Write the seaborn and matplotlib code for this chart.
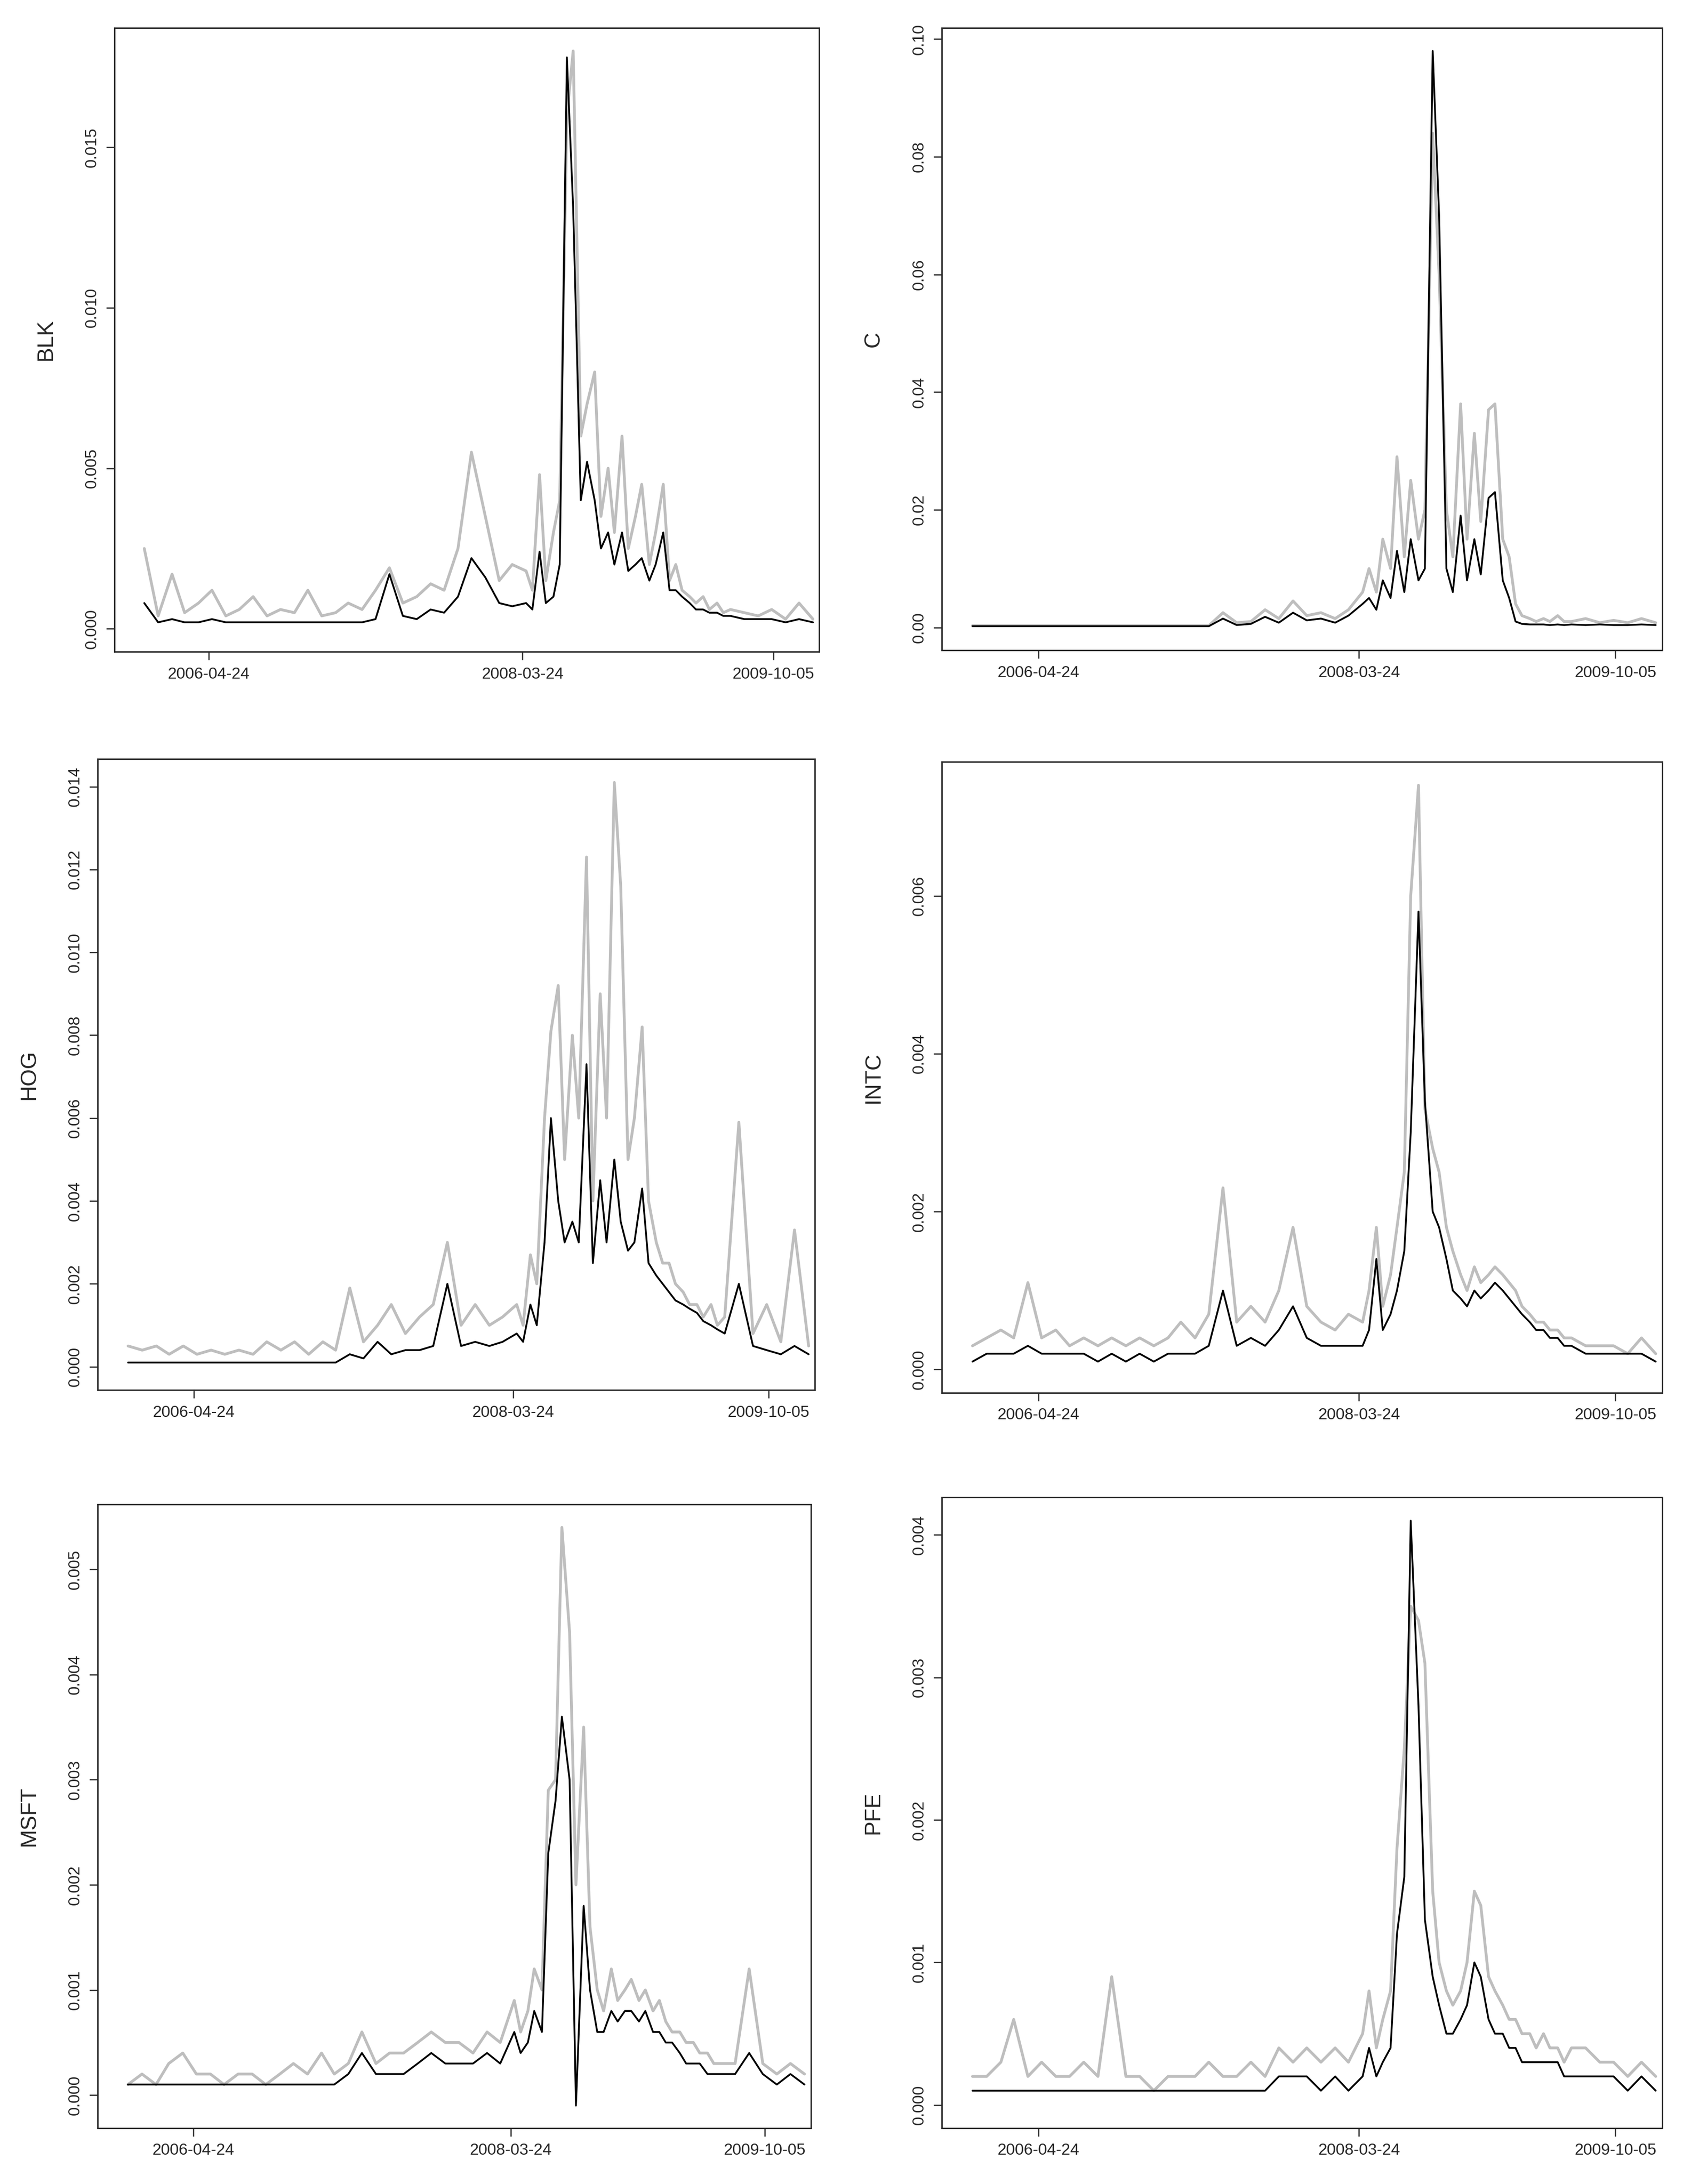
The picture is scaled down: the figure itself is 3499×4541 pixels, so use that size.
import matplotlib
matplotlib.use("Agg")
import matplotlib.pyplot as plt
import matplotlib.dates as mdates
import numpy as np
import pandas as pd
import seaborn as sns

# sampling dates: monthly, semi-monthly through the crisis, monthly again
dates = list(pd.date_range("2005-12-01", "2008-03-01", freq="MS")) \
    + list(pd.date_range("2008-04-01", "2009-06-15", freq="SMS")) \
    + list(pd.date_range("2009-07-01", "2010-01-01", freq="MS"))

tickers = ["BLK", "C", "HOG", "INTC", "MSFT", "PFE"]

blk_grey = [.0025, .0004, .0017, .0005, .0008, .0012, .0004, .0006, .0010, .0004, .0006, .0005, .0012, .0004, .0005, .0008,
            .0006, .0012, .0019, .0008, .0010, .0014, .0012, .0025, .0055, .0035, .0015, .0020, .0018, .0012, .0048, .0015,
            .0030, .0040, .0160, .0180, .0060, .0070, .0080, .0035, .0050, .0030, .0060, .0025, .0035, .0045, .0020, .0030,
            .0045, .0015, .0020, .0012, .0010, .0008, .0010, .0006, .0008, .0005, .0006, .0005, .0004, .0006, .0003, .0008, .0003]
blk_black = [.0008, .0002, .0003, .0002, .0002, .0003, .0002, .0002, .0002, .0002, .0002, .0002, .0002, .0002, .0002, .0002,
             .0002, .0003, .0017, .0004, .0003, .0006, .0005, .0010, .0022, .0016, .0008, .0007, .0008, .0006, .0024, .0008,
             .0010, .0020, .0178, .0131, .0040, .0052, .0040, .0025, .0030, .0020, .0030, .0018, .0020, .0022, .0015, .0020,
             .0030, .0012, .0012, .0010, .0008, .0006, .0006, .0005, .0005, .0004, .0004, .0003, .0003, .0003, .0002, .0003, .0002]

c_grey = [.0003] * 18 + [.0025, .0008, .0010, .003, .0015, .0045, .002, .0025, .0015, .003, .006, .010, .006, .015, .010, .029,
                         .012, .025, .015, .020, .084, .060, .020, .012, .038, .015, .033, .018, .037, .038, .015, .012, .004,
                         .002, .0015, .001, .0015, .001, .002, .001, .001, .0015, .0008, .0012, .0008, .0015, .0008]
c_black = [.0002] * 18 + [.0015, .0004, .0006, .0018, .0008, .0025, .0012, .0015, .0008, .002, .004, .005, .003, .008, .005,
                          .013, .006, .015, .008, .010, .098, .070, .010, .006, .019, .008, .015, .009, .022, .023, .008, .005,
                          .001, .0006, .0005, .0005, .0005, .0004, .0005, .0004, .0005, .0004, .0005, .0004, .0004, .0005, .0004]

hog_grey = [.0005, .0004, .0005, .0003, .0005, .0003, .0004, .0003, .0004, .0003, .0006, .0004, .0006, .0003, .0006, .0004,
            .0019, .0006, .0010, .0015, .0008, .0012, .0015, .0030, .0010, .0015, .0010, .0012, .0015, .0010, .0027, .0020,
            .0060, .0081, .0092, .0050, .0080, .0060, .0123, .0040, .0090, .0060, .0141, .0116, .0050, .0060, .0082, .0040,
            .0030, .0025, .0025, .0020, .0018, .0015, .0015, .0012, .0015, .0010, .0012, .0059, .0008, .0015, .0006, .0033, .0005]
hog_black = [.0001] * 16 + [.0003, .0002, .0006, .0003, .0004, .0004, .0005, .0020, .0005, .0006, .0005, .0006, .0008, .0006,
                            .0015, .0010, .0030, .0060, .0040, .0030, .0035, .0030, .0073, .0025, .0045, .0030, .0050, .0035,
                            .0028, .0030, .0043, .0025, .0022, .0020, .0018, .0016, .0015, .0014, .0013, .0011, .0010, .0009,
                            .0008, .0020, .0005, .0004, .0003, .0005, .0003]

intc_grey = [.0003, .0004, .0005, .0004, .0011, .0004, .0005, .0003, .0004, .0003, .0004, .0003, .0004, .0003, .0004, .0006,
             .0004, .0007, .0023, .0006, .0008, .0006, .0010, .0018, .0008, .0006, .0005, .0007, .0006, .0010, .0018, .0008,
             .0012, .0018, .0025, .0060, .0074, .0033, .0028, .0025, .0018, .0015, .0012, .0010, .0013, .0011, .0012, .0013,
             .0012, .0011, .0010, .0008, .0007, .0006, .0006, .0005, .0005, .0004, .0004, .0003, .0003, .0003, .0002, .0004, .0002]
intc_black = [.0001, .0002, .0002, .0002, .0003, .0002, .0002, .0002, .0002, .0001, .0002, .0001, .0002, .0001, .0002, .0002,
              .0002, .0003, .0010, .0003, .0004, .0003, .0005, .0008, .0004, .0003, .0003, .0003, .0003, .0005, .0014, .0005,
              .0007, .0010, .0015, .0030, .0058, .0034, .0020, .0018, .0014, .0010, .0009, .0008, .0010, .0009, .0010, .0011,
              .0010, .0009, .0008, .0007, .0006, .0005, .0005, .0004, .0004, .0003, .0003, .0002, .0002, .0002, .0002, .0002, .0001]

msft_grey = [.0001, .0002, .0001, .0003, .0004, .0002, .0002, .0001, .0002, .0002, .0001, .0002, .0003, .0002, .0004, .0002,
             .0003, .0006, .0003, .0004, .0004, .0005, .0006, .0005, .0005, .0004, .0006, .0005, .0009, .0006, .0008, .0012,
             .0010, .0029, .0030, .0054, .0044, .0020, .0035, .0016, .0010, .0008, .0012, .0009, .0010, .0011, .0009, .0010,
             .0008, .0009, .0007, .0006, .0006, .0005, .0005, .0004, .0004, .0003, .0003, .0003, .0012, .0003, .0002, .0003, .0002]
msft_black = [.0001] * 16 + [.0002, .0004, .0002, .0002, .0002, .0003, .0004, .0003, .0003, .0003, .0004, .0003, .0006, .0004,
                             .0005, .0008, .0006, .0023, .0028, .0036, .0030, -.0001, .0018, .0010, .0006, .0006, .0008, .0007,
                             .0008, .0008, .0007, .0008, .0006, .0006, .0005, .0005, .0004, .0003, .0003, .0003, .0002, .0002,
                             .0002, .0002, .0004, .0002, .0001, .0002, .0001]

pfe_grey = [.0002, .0002, .0003, .0006, .0002, .0003, .0002, .0002, .0003, .0002, .0009, .0002, .0002, .0001, .0002, .0002,
            .0002, .0003, .0002, .0002, .0003, .0002, .0004, .0003, .0004, .0003, .0004, .0003, .0005, .0008, .0004, .0006,
            .0008, .0018, .0025, .0035, .0034, .0031, .0015, .0010, .0008, .0007, .0008, .0010, .0015, .0014, .0009, .0008,
            .0007, .0006, .0006, .0005, .0005, .0004, .0005, .0004, .0004, .0003, .0004, .0004, .0003, .0003, .0002, .0003, .0002]
pfe_black = [.0001] * 22 + [.0002, .0002, .0002, .0001, .0002, .0001, .0002, .0004, .0002, .0003, .0004, .0012, .0016, .0041,
                            .0028, .0013, .0009, .0007, .0005, .0005, .0006, .0007, .0010, .0009, .0006, .0005, .0005, .0004,
                            .0004, .0003, .0003, .0003, .0003, .0003, .0003, .0002, .0002, .0002, .0002, .0002, .0001, .0002, .0001]

greys = [blk_grey, c_grey, hog_grey, intc_grey, msft_grey, pfe_grey]
blacks = [blk_black, c_black, hog_black, intc_black, msft_black, pfe_black]
yticks = [[0, .005, .010, .015], [0, .02, .04, .06, .08, .10], list(np.arange(0, .0141, .002)),
          [0, .002, .004, .006], [0, .001, .002, .003, .004, .005], [0, .001, .002, .003, .004]]
ydec = [3, 2, 3, 3, 3, 3]
xtick_labels = ["2006-04-24", "2008-03-24", "2009-10-05"]

# panel boxes in reference pixels (left, right, top, bottom) of a 1208x1568 image
boxes = [(82, 588, 20, 468), (676, 1193, 20, 467), (70, 585, 545, 998),
         (676, 1193, 547, 1000), (70, 582, 1080, 1528), (676, 1193, 1075, 1528)]

sns.set_style("ticks")
plt.rcParams["font.family"] = ["Liberation Sans", "DejaVu Sans"]

fig = plt.figure(figsize=(3499 / 300, 4541 / 300), dpi=300)
xlim = (pd.Timestamp("2005-09-25"), pd.Timestamp("2010-01-15"))

for k, name in enumerate(tickers):
    l, r, t, b = boxes[k]
    ax = fig.add_axes([l / 1208, 1 - b / 1568, (r - l) / 1208, (b - t) / 1568])
    df = pd.DataFrame({"date": dates, "grey": greys[k], "black": blacks[k]})
    sns.lineplot(data=df, x="date", y="grey", color="#bebebe", lw=1.4, ax=ax)
    sns.lineplot(data=df, x="date", y="black", color="black", lw=0.9, ax=ax)
    top = max(max(greys[k]), max(blacks[k]))
    low = min(0, min(blacks[k]))
    ax.set_ylim(low - 0.04 * top, low + 1.04 * (top - low))
    ax.set_xlim(*xlim)
    ax.set_xticks([pd.Timestamp(d) for d in xtick_labels])
    ax.set_xticklabels(xtick_labels)
    ax.set_yticks(yticks[k])
    ax.set_yticklabels([f"{v:.{ydec[k]}f}" for v in yticks[k]], rotation=90, va="center")
    ax.tick_params(labelsize=8, length=4, width=0.6, direction="out")
    ax.set_xlabel("")
    ax.set_ylabel(name, fontsize=11, labelpad=14)
    for s in ax.spines.values():
        s.set_visible(True)
        s.set_linewidth(0.7)

fig.savefig("out.png", dpi=300)
